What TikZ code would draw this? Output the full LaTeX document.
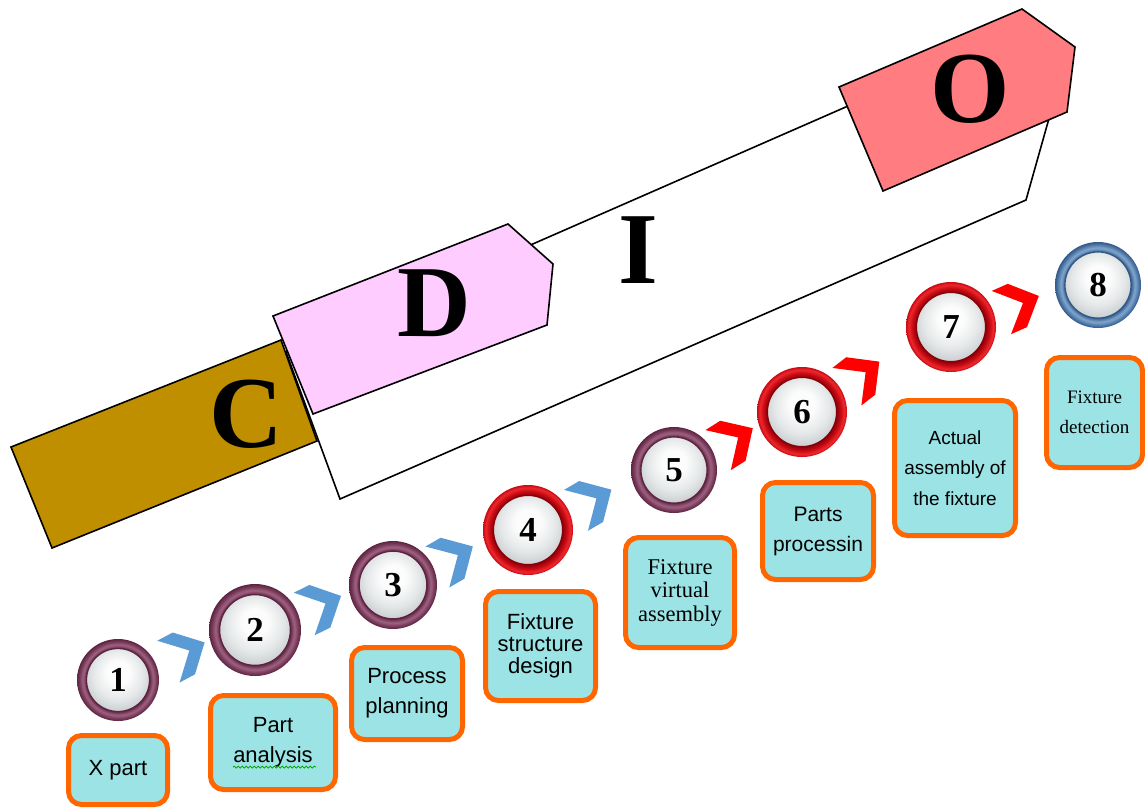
\documentclass[tikz,border=0pt]{standalone}
\usepackage{fontspec}
\setmainfont{Liberation Serif}
\newfontfamily\arialfont{Liberation Sans}
\usetikzlibrary{calc,decorations.pathmorphing}

% fills of the CDIO blocks
\definecolor{cfill}{RGB}{191,143,0}
\definecolor{dfill}{RGB}{255,204,255}
\definecolor{ofill}{RGB}{255,124,128}
% chevrons and step boxes
\definecolor{chevblue}{RGB}{91,155,213}
\definecolor{chevred}{RGB}{255,0,0}
\definecolor{boxfill}{RGB}{155,227,229}
\definecolor{boxedge}{RGB}{255,102,0}
% ring colours of the numbered knobs
\definecolor{mardark}{RGB}{92,36,64}
\definecolor{marmid}{RGB}{118,58,88}
\definecolor{marlight}{RGB}{160,98,130}
\definecolor{reddark}{RGB}{135,0,8}
\definecolor{redmid}{RGB}{200,10,20}
\definecolor{redlight}{RGB}{236,40,44}
\definecolor{bludark}{RGB}{50,88,135}
\definecolor{blumid}{RGB}{80,122,170}
\definecolor{blulight}{RGB}{130,168,206}
% knob face
\definecolor{facehi}{RGB}{252,252,252}
\definecolor{facemid}{RGB}{228,231,232}
\definecolor{facelow}{RGB}{188,194,197}

\pgfdeclareradialshading{ringmar}{\pgfpointorigin}{color(0bp)=(mardark); color(19bp)=(mardark); color(21.5bp)=(marlight); color(23.5bp)=(marmid); color(25bp)=(mardark); color(50bp)=(mardark)}
\pgfdeclareradialshading{ringred}{\pgfpointorigin}{color(0bp)=(reddark); color(19bp)=(reddark); color(21.5bp)=(redmid); color(23.5bp)=(redlight); color(25bp)=(redmid); color(50bp)=(redmid)}
\pgfdeclareradialshading{ringblu}{\pgfpointorigin}{color(0bp)=(bludark); color(19bp)=(bludark); color(21.5bp)=(blulight); color(23.5bp)=(blumid); color(25bp)=(bludark); color(50bp)=(bludark)}
\pgfdeclareradialshading{knobface}{\pgfpoint{0bp}{7bp}}{color(0bp)=(facehi); color(9bp)=(facehi); color(20bp)=(facemid); color(32bp)=(facelow); color(50bp)=(facelow)}

% numbered knob: name, centre, radius, ring family, label
\newcommand\drawknob[5]{%
  \shade[shading=ring#4] #2 circle[radius=#3pt];
  \shade[shading=knobface] #2 circle[radius=0.77*#3pt];
  \draw[#4dark, line width=1.4pt] #2 circle[radius=0.77*#3pt];
  \node[knobnum, minimum size=2*#3pt] (#1) at #2 {#5};
}

\tikzset{
  block/.style={draw=black, line width=1.6pt, line join=miter},
  bigletter/.style={font=\bfseries\fontsize{102}{102}\selectfont, inner sep=0pt},
  knobnum/.style={circle, inner sep=0pt, font=\bfseries\fontsize{35}{35}\selectfont},
  stepbox/.style={draw=boxedge, fill=boxfill, line width=5pt, rounded corners=13pt,
    align=center, inner sep=0pt},
  sanslabel/.style={font=\arialfont\fontsize{#1}{30}\selectfont},
  % right-pointing chevron with a right-angled tip
  chevron/.pic={\fill[pic actions] (-20.5,23.7) -- (-3,23.7) -- (20.5,0) -- (-3,-23.7) -- (-20.5,-23.7) -- (3.2,0) -- cycle;}
}

\begin{document}
\begin{tikzpicture}[x=1pt, y=-1pt]
\useasboundingbox (0,0) rectangle (1145,809);
\fill[white] (0,0) rectangle (1145,809);

% ---- CDIO blocks ----
\draw[block, fill=cfill] (11,447) -- (281,340) -- (317,441) -- (52,548) -- cycle;
\draw[block, fill=white] (286,352) -- (960,57) -- (1057,90) -- (1026,200) -- (340,499) -- cycle;
\draw[block, fill=dfill] (273,316) -- (508,224) -- (553,264) -- (547,325) -- (313,414) -- cycle;
\draw[block, fill=ofill] (839,87) -- (1022,9) -- (1075,47) -- (1067,112) -- (883,191) -- cycle;

\node[bigletter] (C) at (246,414) {C};
\node[bigletter] (D) at (434,303) {D};
\node[bigletter] (I) at (638,250) {I};
\node[bigletter] (O) at (970,89) {O};

% ---- numbered steps ----
\drawknob{n1}{(118,680)}{41}{mar}{1}
\drawknob{n2}{(255,630)}{46}{mar}{2}
\drawknob{n3}{(393,585)}{44}{mar}{3}
\drawknob{n4}{(528,530)}{45}{red}{4}
\drawknob{n5}{(674,470)}{43}{mar}{5}
\drawknob{n6}{(802,412)}{45}{red}{6}
\drawknob{n7}{(951,327)}{45}{red}{7}
\drawknob{n8}{(1098,285)}{43}{blu}{8}

% ---- chevrons between the steps ----
\foreach \a/\b/\f/\c in {n1/n2/0.50/chevblue, n2/n3/0.49/chevblue, n3/n4/0.46/chevblue,
    n4/n5/0.45/chevblue, n5/n6/0.48/chevred, n6/n7/0.41/chevred, n7/n8/0.47/chevred}{
  \path let \p1=(\a), \p2=(\b), \n1={atan2(\y2-\y1,\x2-\x1)} in
    ($(\a)!\f!(\b)+(0,-3)$) pic[fill=\c, rotate=\n1+8] {chevron};
}

% ---- step descriptions ----
\node[stepbox, minimum width=99pt, minimum height=69pt, sanslabel=22] (b1) at (118,770) {X part};
\node[stepbox, minimum width=125pt, minimum height=94pt, sanslabel=22] (b2) at (273,742.5) {Part\\analysis};
\node[stepbox, minimum width=111pt, minimum height=92pt, sanslabel=22] (b3) at (407,693.5) {Process\\planning};
\node[stepbox, minimum width=110pt, minimum height=109pt, font=\arialfont\fontsize{22}{22}\selectfont] (b4) at (540.5,646) {Fixture\\structure\\design};
\node[stepbox, minimum width=109pt, minimum height=110pt, font=\fontsize{22.5}{23.5}\selectfont] (b5) at (680,592.5) {Fixture\\virtual\\assembly};
\node[stepbox, minimum width=111pt, minimum height=97pt, sanslabel=21] (b6) at (818,531) {Parts\\processin};
\node[stepbox, minimum width=121pt, minimum height=135pt, font=\arialfont\fontsize{19}{30.5}\selectfont] (b7) at (955,468) {Actual\\assembly of\\the fixture};
\node[stepbox, minimum width=96pt, minimum height=110pt, font=\fontsize{19}{30}\selectfont] (b8) at (1094.5,412.5) {Fixture\\detection};

% spelling mark under "analysis"
\draw[decorate, decoration={snake, amplitude=1pt, segment length=4pt}, draw=green!60!black, line width=0.7pt]
  ($(b2.center)+(-40,24.5)$) -- ($(b2.center)+(43,24.5)$);
\end{tikzpicture}
\end{document}
